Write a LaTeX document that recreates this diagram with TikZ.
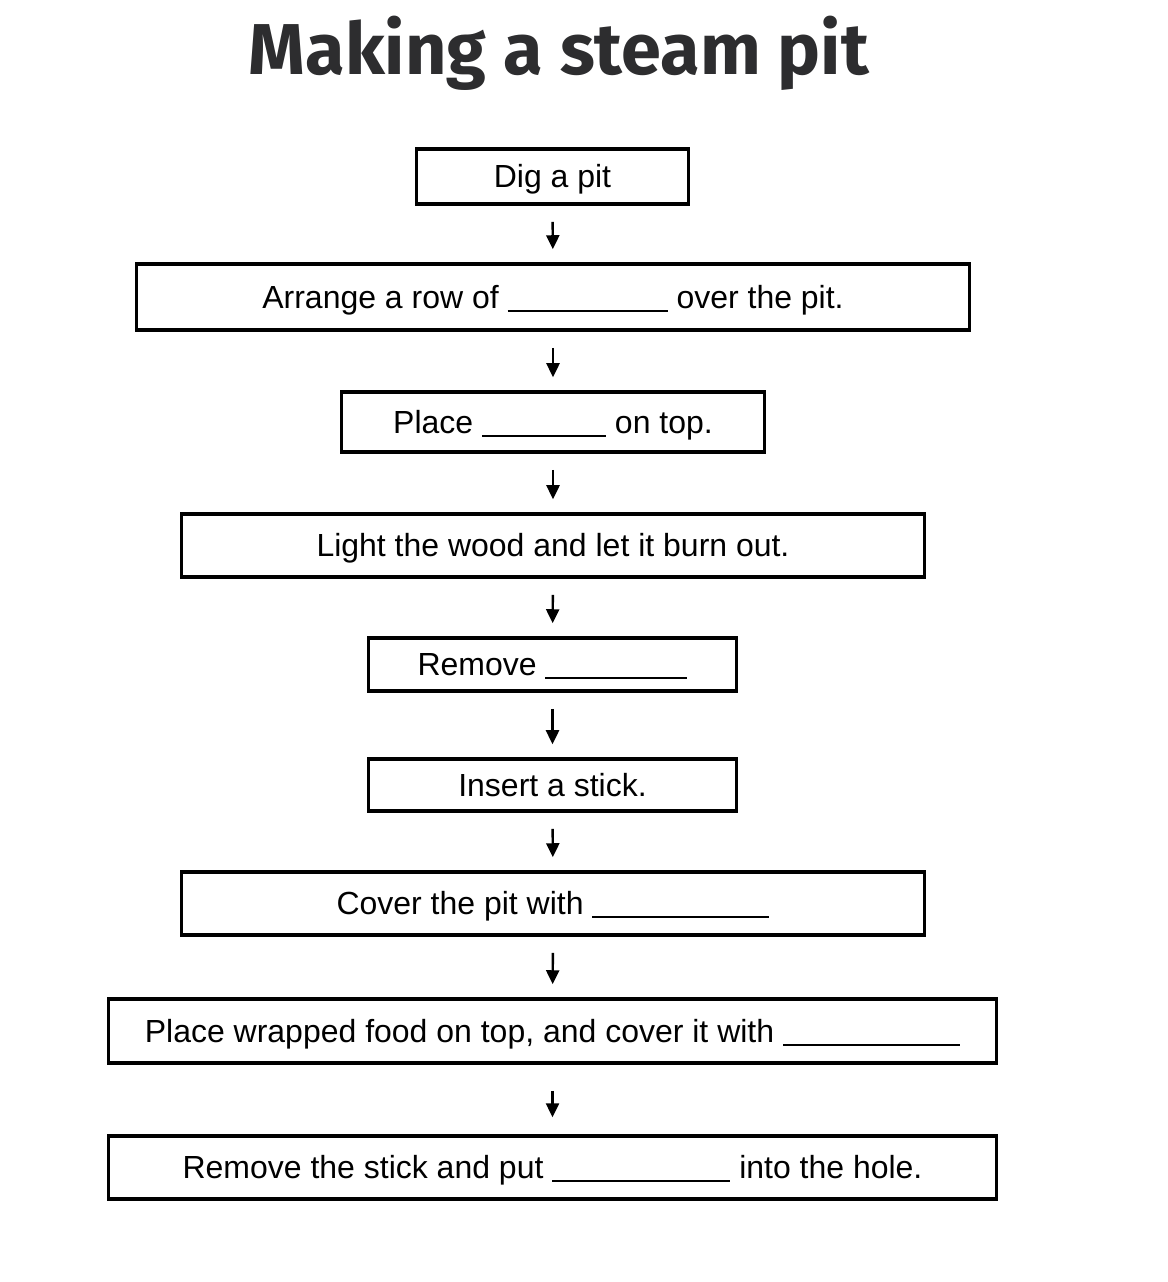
\documentclass[tikz,border=0pt]{standalone}
\usepackage{fontspec}
\setmainfont{Liberation Sans}
\newfontfamily\titlefont{Fira Sans}
\usetikzlibrary{arrows.meta}

\definecolor{titlegray}{HTML}{2D2D2F}
\newcommand{\fillin}[1]{\rule[-1.9pt]{#1}{1.1pt}}

\begin{document}
\begin{tikzpicture}[x=1cm,y=1cm,
  stepbox/.style={draw,line width=2pt,inner sep=0pt,text height=12.9pt,text depth=0pt,
    font=\fontsize{18.2}{22}\selectfont},
  flow/.style={-{Triangle[length=2.8mm,width=2.6mm]},line width=1.4pt,shorten <=0.32cm,shorten >=0.26cm}]

% page size
\useasboundingbox (0,0) rectangle (23.36,-25.64);

% title
\node[anchor=base,text=titlegray,font=\titlefont\bfseries\fontsize{41}{48}\selectfont] (title) at (11.18,-1.5) {Making a steam pit};

% draw boxes
\node[stepbox,minimum width=5.44cm,minimum height=1.1cm] (dig) at (11.05,-3.53) {Dig a pit};
\node[stepbox,minimum width=16.66cm,minimum height=1.32cm] (arrange) at (11.06,-5.94) {Arrange a row of \fillin{3.2cm} over the pit.};
\node[stepbox,minimum width=8.46cm,minimum height=1.2cm] (place) at (11.06,-8.44) {Place \fillin{2.48cm} on top.};
\node[stepbox,minimum width=14.86cm,minimum height=1.26cm] (light) at (11.06,-10.91) {Light the wood and let it burn out.};
\node[stepbox,minimum width=7.36cm,minimum height=1.06cm] (remove) at (11.05,-13.29) {Remove \fillin{2.84cm}};
\node[stepbox,minimum width=7.36cm,minimum height=1.04cm] (insert) at (11.05,-15.7) {Insert a stick.};
\node[stepbox,minimum width=14.86cm,minimum height=1.26cm] (cover) at (11.06,-18.07) {Cover the pit with \fillin{3.54cm}};
\node[stepbox,minimum width=17.76cm,minimum height=1.28cm] (wrapped) at (11.05,-20.62) {Place wrapped food on top, and cover it with \fillin{3.54cm}};
\node[stepbox,minimum width=17.76cm,minimum height=1.26cm] (stick) at (11.05,-23.35) {Remove the stick and put \fillin{3.56cm} into the hole.};

% draw arrows
\foreach \a/\b in {dig/arrange,arrange/place,place/light,light/remove,remove/insert,insert/cover,cover/wrapped}
  \draw[flow] (\a) -- (\b);
\draw[flow,shorten <=0.52cm,shorten >=0.34cm] (wrapped) -- (stick);

\end{tikzpicture}
\end{document}
